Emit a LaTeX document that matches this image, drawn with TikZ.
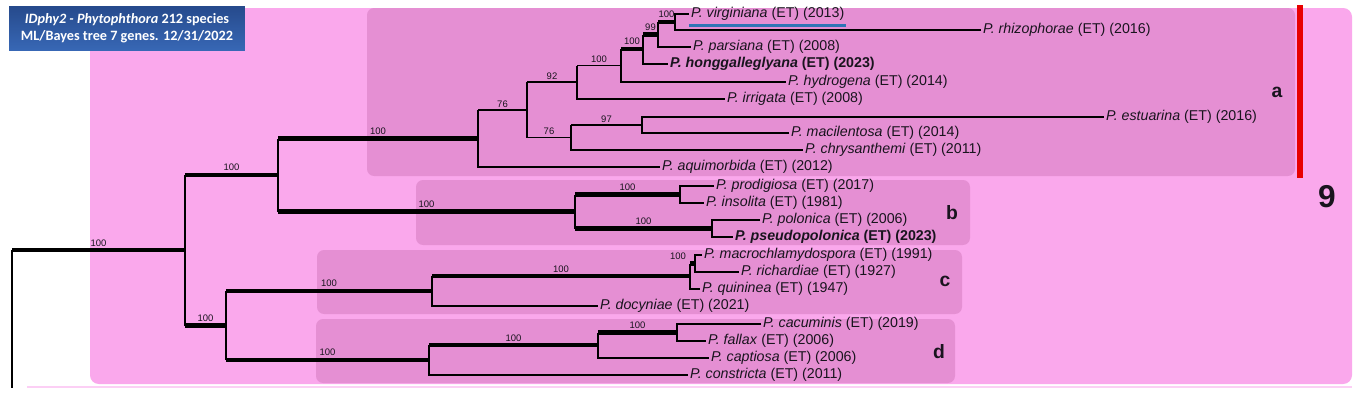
\documentclass[tikz,border=0pt]{standalone}
\usepackage{fontspec}
\setmainfont{Liberation Sans}
\newfontfamily\titlefont{Carlito}
\definecolor{OuterPink}{RGB}{250, 168, 236}
\definecolor{CladePink}{RGB}{229, 143, 211}
\definecolor{TitleTop}{RGB}{38, 74, 140}
\definecolor{TitleBottom}{RGB}{56, 104, 182}
\definecolor{LinkBlue}{RGB}{46, 117, 182}
\definecolor{BarRed}{RGB}{232, 0, 0}
\definecolor{LabelInk}{RGB}{25, 20, 30}
\usetikzlibrary{positioning}

\begin{document}
\begin{tikzpicture}[x=0.02cm, y=-0.02cm,
    br/.style={line width=0.75pt, black},
    bbr/.style={line width=2.3pt, black},
    leaf/.style={anchor=west, inner sep=1pt, text=LabelInk, font=\fontsize{8.1}{9}\selectfont},
    bs/.style={midway, above, inner sep=1.2pt, text=LabelInk, font=\fontsize{5.4}{6}\selectfont},
    cladebox/.style={fill=CladePink, rounded corners=4pt},
    cladetag/.style={text=LabelInk, font=\fontsize{11}{12}\selectfont\bfseries},
    titlebox/.style={top color=TitleTop, bottom color=TitleBottom, text=white, align=center,
                     minimum width=4.72cm, minimum height=0.9cm, inner sep=0pt,
                     font=\titlefont\bfseries\fontsize{8.1}{9.6}\selectfont}
  ]
  \useasboundingbox (0,0) rectangle (1357,399);
  \fill[white] (0,0) rectangle (1357,399);

  % backgrounds
  \fill[OuterPink, rounded corners=5pt] (90,8) rectangle (1352,384);
  \draw[OuterPink!55, line width=0.8pt] (27,387) -- (1352,387);
  \fill[cladebox] (367,8) rectangle (1295,176);
  \fill[cladebox] (416,180) rectangle (970,245);
  \fill[cladebox] (317,250) rectangle (962,314);
  \fill[cladebox] (316,319) rectangle (955,383);
  \fill[BarRed] (1297,5) rectangle (1303,178);

  \node[titlebox] (ttl) at (127,28.5) {\textit{IDphy2 - Phytophthora} 212 species\\ML/Bayes tree 7 genes. 12/31/2022};

  \node[cladetag] (tagA) at (1277,92) {a};
  \node[cladetag] (tagB) at (952,213) {b};
  \node[cladetag] (tagC) at (945,281) {c};
  \node[cladetag] (tagD) at (939,352) {d};
  \node[text=LabelInk, font=\fontsize{18}{20}\selectfont\bfseries] (grp) at (1327,197) {9};

  % leaves
  \node[leaf] (virg) at (689,14) {\textit{P. virginiana} (ET) (2013)};
  \node[leaf] (rhiz) at (981,30) {\textit{P. rhizophorae} (ET) (2016)};
  \node[leaf] (pars) at (691,47) {\textit{P. parsiana} (ET) (2008)};
  \node[leaf] (hong) at (668,64) {\textbf{\textit{P. honggalleglyana} (ET) (2023)}};
  \node[leaf] (hydr) at (786,82) {\textit{P. hydrogena} (ET) (2014)};
  \node[leaf] (irri) at (725,99) {\textit{P. irrigata} (ET) (2008)};
  \node[leaf] (estu) at (1104,117) {\textit{P. estuarina} (ET) (2016)};
  \node[leaf] (maci) at (789,133) {\textit{P. macilentosa} (ET) (2014)};
  \node[leaf] (chry) at (803,150) {\textit{P. chrysanthemi} (ET) (2011)};
  \node[leaf] (aqui) at (660,167) {\textit{P. aquimorbida} (ET) (2012)};
  \node[leaf] (prod) at (714,186) {\textit{P. prodigiosa} (ET) (2017)};
  \node[leaf] (inso) at (704,203) {\textit{P. insolita} (ET) (1981)};
  \node[leaf] (polo) at (760,220) {\textit{P. polonica} (ET) (2006)};
  \node[leaf] (pseu) at (733,237) {\textbf{\textit{P. pseudopolonica} (ET) (2023)}};
  \node[leaf] (macr) at (702,255) {\textit{P. macrochlamydospora} (ET) (1991)};
  \node[leaf] (rich) at (739,272) {\textit{P. richardiae} (ET) (1927)};
  \node[leaf] (quin) at (700,289) {\textit{P. quininea} (ET) (1947)};
  \node[leaf] (docy) at (598,306) {\textit{P. docyniae} (ET) (2021)};
  \node[leaf] (cacu) at (761,324) {\textit{P. cacuminis} (ET) (2019)};
  \node[leaf] (fall) at (706,341) {\textit{P. fallax} (ET) (2006)};
  \node[leaf] (capt) at (709,358) {\textit{P. captiosa} (ET) (2006)};
  \node[leaf] (cons) at (688,375) {\textit{P. constricta} (ET) (2011)};

  \draw[LinkBlue, line width=1.7pt] ([yshift=-1.8pt]virg.south west) -- ([yshift=-1.8pt]virg.south east);

  % internal nodes
  \coordinate (vr) at (675,22);
  \coordinate (vrp) at (658,34.5);
  \coordinate (vrph) at (643,49);
  \coordinate (hy) at (621,65.5);
  \coordinate (ir) at (577,82);
  \coordinate (es) at (642,125);
  \coordinate (ch) at (571,137.5);
  \coordinate (c76) at (527,110);
  \coordinate (na) at (478,138.5);
  \coordinate (pi) at (680,194.5);
  \coordinate (pp) at (712,228.5);
  \coordinate (nb) at (575,211.5);
  \coordinate (mr) at (695,263.5);
  \coordinate (mq) at (690,276.25);
  \coordinate (nc) at (432,291);
  \coordinate (cf) at (677,332.5);
  \coordinate (cc) at (598,345.25);
  \coordinate (nd) at (429,360);
  \coordinate (nab) at (278,175);
  \coordinate (ncd) at (226,325.5);
  \coordinate (nall) at (185,250.25);
  \coordinate (root) at (12,250.25);
  \coordinate (rootend) at (12,388);

  % clade a
  \draw[br] (virg) -| (vr) |- (rhiz);
  \draw[br] (vrp |- vr) -- (vrp |- pars) -- (pars);
  \draw[bbr] (vrp |- vr) -- node[bs]{100} (vr);
  \draw[br] (vrph |- vrp) -- (vrph |- hong) -- (hong);
  \draw[bbr] (vrph |- vrp) -- node[bs]{99} (vrp);
  \draw[br] (hy |- vrph) -- (hy |- hydr) -- (hydr);
  \draw[bbr] (hy |- vrph) -- node[bs]{100} (vrph);
  \draw[br] (ir |- hy) -- node[bs]{100} (hy);
  \draw[br] (ir |- hy) -- (ir |- irri) -- (irri);
  \draw[br] (maci) -| (es) |- (estu);
  \draw[br] (ch |- es) -- node[bs]{97} (es);
  \draw[br] (ch |- es) -- (ch |- chry) -- (chry);
  \draw[br] (c76 |- ir) -- node[bs]{92} (ir);
  \draw[br] (c76 |- ch) -- node[bs]{76} (ch);
  \draw[br] (c76 |- ir) -- (c76 |- ch);
  \draw[br] (na |- c76) -- node[bs]{76} (c76);
  \draw[br] (na |- c76) -- (na |- aqui) -- (aqui);

  % clade b
  \draw[br] (prod) -| (pi) |- (inso);
  \draw[br] (polo) -| (pp) |- (pseu);
  \draw[br] (nb |- pi) -- (nb |- pp);
  \draw[bbr] (nb |- pi) -- node[bs]{100} (pi);
  \draw[bbr] (nb |- pp) -- node[bs]{100} (pp);

  % clade c
  \draw[br] (macr) -| (mr) |- (rich);
  \draw[br] (mq |- mr) -- (mq |- quin) -- (quin);
  \draw[bbr] (mq |- mr) -- node[bs, pos=0, anchor=south east]{100} (mr);
  \draw[br] (nc |- mq) -- (nc |- docy) -- (docy);
  \draw[bbr] (nc |- mq) -- node[bs]{100} (mq);

  % clade d
  \draw[br] (cacu) -| (cf) |- (fall);
  \draw[br] (cc |- cf) -- (cc |- capt) -- (capt);
  \draw[bbr] (cc |- cf) -- node[bs]{100} (cf);
  \draw[br] (nd |- cc) -- (nd |- cons) -- (cons);
  \draw[bbr] (nd |- cc) -- node[bs]{100} (cc);

  % backbone
  \draw[br] (nab |- na) -- (nab |- nb);
  \draw[bbr] (nab |- na) -- node[bs]{100} (na);
  \draw[bbr] (nab |- nb) -- node[bs]{100} (nb);
  \draw[br] (ncd |- nc) -- (ncd |- nd);
  \draw[bbr] (ncd |- nc) -- node[bs]{100} (nc);
  \draw[bbr] (ncd |- nd) -- node[bs]{100} (nd);
  \draw[br] (nall |- nab) -- (nall |- ncd);
  \draw[bbr] (nall |- nab) -- node[bs]{100} (nab);
  \draw[bbr] (nall |- ncd) -- node[bs]{100} (ncd);
  \draw[bbr] (root) -- node[bs]{100} (nall);
  \draw[br] (root) -- (rootend);
\end{tikzpicture}
\end{document}
